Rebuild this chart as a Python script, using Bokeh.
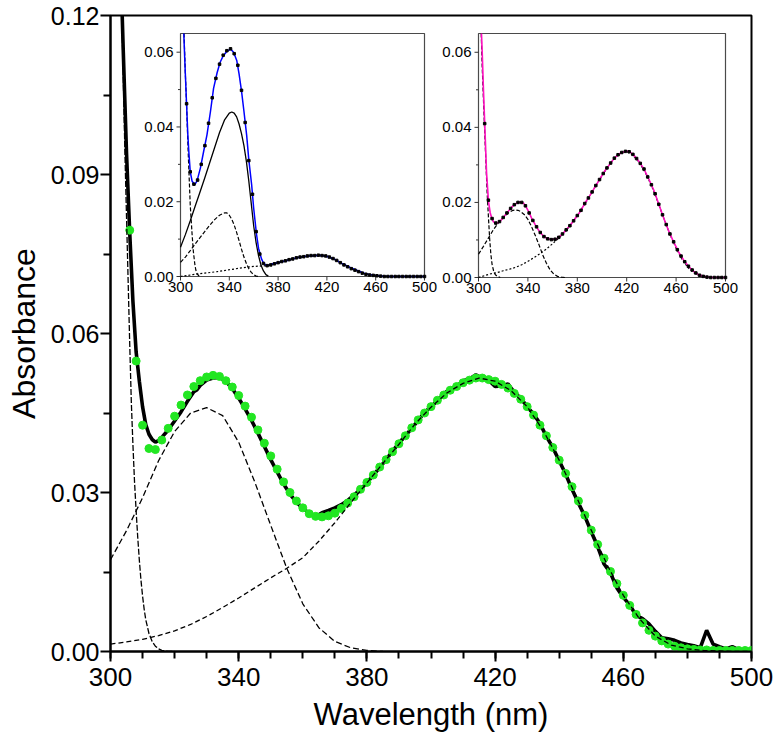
import numpy as np
from bokeh.plotting import figure
from bokeh.models import Range1d, FixedTicker, NumeralTickFormatter
from bokeh.core.properties import value
from bokeh.embed import file_html
from bokeh.resources import INLINE

FONT = "Liberation Sans"

# ---------------- main panel data ----------------
main_xticks = [300, 340, 380, 420, 460, 500]
main_xminor = [300, 310, 320, 330, 340, 350, 360, 370, 380, 390, 400, 410, 420, 430, 440,
               450, 460, 470, 480, 490, 500]
main_yticks = [0.0, 0.03, 0.06, 0.09, 0.12]
main_yminor = [0.015, 0.045, 0.075, 0.105]

# fitted spectrum (green dots)
fit_wl = list(range(306, 501, 2))
fit_abs = [0.0795, 0.0548, 0.0427, 0.0383, 0.0381, 0.0399, 0.0421, 0.0444, 0.0465, 0.0484,
           0.0500, 0.0511, 0.0518, 0.0521, 0.0519, 0.0511, 0.0499, 0.0483, 0.0463, 0.0442,
           0.0418, 0.0393, 0.0369, 0.0344, 0.0320, 0.0300, 0.0284, 0.0271, 0.0260, 0.0255,
           0.0254, 0.0256, 0.0261, 0.0270, 0.0280, 0.0292, 0.0306, 0.0319, 0.0333, 0.0348,
           0.0362, 0.0377, 0.0392, 0.0407, 0.0422, 0.0437, 0.0450, 0.0462, 0.0474, 0.0484,
           0.0493, 0.0500, 0.0507, 0.0512, 0.0516, 0.0516, 0.0513, 0.0510, 0.0504, 0.0497,
           0.0487, 0.0476, 0.0462, 0.0446, 0.0427, 0.0407, 0.0385, 0.0361, 0.0336, 0.0311,
           0.0284, 0.0257, 0.0229, 0.0202, 0.0176, 0.0151, 0.0128, 0.0106, 0.0087, 0.0070,
           0.0054, 0.0040, 0.0029, 0.0020, 0.0014, 0.0010, 0.0007, 0.0005, 0.0004, 0.0003,
           0.0003, 0.0002, 0.0002, 0.0002, 0.0002, 0.0002, 0.0002, 0.0002]

# measured spectrum (thick black line)
exp_wl = [303.4, 304, 305, 306, 307, 308, 309, 310, 311, 312, 313, 314, 315, 316, 318, 320,
          322, 324, 326, 327, 328, 330, 332, 334, 336, 338, 340, 342, 344, 346, 348, 350,
          352, 354, 356, 358, 360, 362, 364, 365, 366, 368, 370, 372, 374, 376, 378, 380,
          382, 384, 386, 388, 390, 392, 394, 396, 398, 400, 402, 404, 406, 408, 410, 412,
          414, 416, 418, 420, 422, 424, 426, 428, 430, 432, 434, 436, 438, 440, 442, 444,
          446, 448, 450, 452, 454, 456, 458, 460, 462, 464, 466, 468, 470, 472, 474, 476,
          478, 480, 482, 484, 486, 488, 490, 492, 494, 496, 498, 500]
exp_abs = [0.125, 0.113, 0.094, 0.079, 0.066, 0.0565, 0.0510, 0.0462, 0.0428, 0.0410, 0.0400, 0.0395, 0.0398, 0.0404, 0.0418, 0.0435,
           0.0452, 0.0472, 0.0490, 0.0494, 0.0502, 0.0512, 0.0516, 0.0517, 0.0510, 0.0496, 0.0478, 0.0458, 0.0436, 0.0412, 0.0387, 0.0362,
           0.0339, 0.0316, 0.0297, 0.0282, 0.0270, 0.0261, 0.0256, 0.0258, 0.0262, 0.0266, 0.0271, 0.0277, 0.0285, 0.0295, 0.0306, 0.0318,
           0.0333, 0.0347, 0.0362, 0.0378, 0.0393, 0.0407, 0.0421, 0.0436, 0.0451, 0.0462, 0.0473, 0.0486, 0.0496, 0.0500, 0.0511, 0.0514,
           0.0522, 0.0516, 0.0512, 0.0500, 0.0501, 0.0505, 0.0489, 0.0478, 0.0462, 0.0448, 0.0430, 0.0406, 0.0385, 0.0360, 0.0335, 0.0306,
           0.0280, 0.0255, 0.0226, 0.0198, 0.0165, 0.0148, 0.0120, 0.0102, 0.0088, 0.0068, 0.0062, 0.0052, 0.0038, 0.0026, 0.0024, 0.0021,
           0.0016, 0.0013, 0.0011, 0.0007, 0.0040, 0.0014, 0.0009, 0.0005, 0.0009, 0.0003, 0.0003, 0.0003]

# component bands (dashed)
uv_wl = [303.2, 304, 304.5, 305, 305.5, 306, 306.5, 307, 307.5, 308, 308.5, 309, 309.5, 310,
         310.5, 311, 312, 313, 314, 315, 316, 318, 320]
uv_abs = [0.128, 0.108, 0.094, 0.082, 0.070, 0.058, 0.047, 0.039, 0.032, 0.0265, 0.0215, 0.0172,
          0.0135, 0.0105, 0.0080, 0.0060, 0.0034, 0.0019, 0.0010, 0.0005, 0.0002, 0.0, 0.0]

b330_wl = [300, 305, 310, 315, 320, 325, 330, 335, 340, 345, 350, 355, 360, 365, 370, 375, 380, 385]
b330_abs = [0.0173, 0.0228, 0.0290, 0.0360, 0.0415, 0.0450, 0.0460, 0.0445, 0.0395, 0.0320,
            0.0238, 0.0157, 0.0090, 0.0045, 0.0019, 0.0007, 0.0002, 0.0]

b415_wl = [300, 305, 310, 315, 320, 325, 330, 335, 340, 345, 350, 355, 360, 365, 370, 375, 380,
           385, 390, 395, 400, 405, 410, 415, 420, 425, 430, 435, 440, 445, 450, 455, 460, 465,
           470, 475, 480, 485, 490, 495, 500]
b415_abs = [0.0014, 0.0018, 0.0023, 0.0030, 0.0039, 0.0051, 0.0066, 0.0083, 0.0101, 0.0120,
            0.0139, 0.0157, 0.0177, 0.0208, 0.0243, 0.0281, 0.0318, 0.0355, 0.0391, 0.0429,
            0.0461, 0.0488, 0.0506, 0.0516, 0.0510, 0.0492, 0.0462, 0.0417, 0.0361, 0.0297,
            0.0229, 0.0163, 0.0106, 0.0062, 0.0029, 0.0012, 0.0005, 0.0002, 0.0001, 0.0, 0.0]

# ---------------- inset data ----------------
inset_xlim = (300, 500)
inset_ylim = (0.0, 0.065)
inset_xticks = [300, 340, 380, 420, 460, 500]
inset_xlabels = ["300", "340", "380", "420", "460", "500"]
inset_yticks = [0.0, 0.02, 0.04, 0.06]
inset_ylabels = ["0.00", "0.02", "0.04", "0.06"]
inset_yminor = [0.01, 0.03, 0.05]

# left inset
L_uv_wl = [302.9, 303.5, 304, 304.9, 306, 306.8, 308, 309.5, 310.5, 311.7, 312.5, 313.6, 315, 317]
L_uv_abs = [0.065, 0.059, 0.054, 0.0467, 0.036, 0.029, 0.019, 0.0113, 0.0068, 0.0034, 0.0018, 0.0007, 0.0002, 0.0]
L_tot_wl = [302.7, 303.5, 304.9, 306, 306.8, 308, 309.5, 311.7, 313.5, 316.3, 319, 321.7, 324.5,
            327.1, 330, 332.5, 335, 337.9, 341.2, 343.5, 346.1, 348, 350.1, 352, 354.2, 356,
            358.3, 360, 362.3, 364, 366.4, 368, 370.5, 375.9, 381, 386.7, 391, 396.3, 403,
            411.1, 416, 421.9, 427, 432.8, 439, 446.3, 452, 459.9, 466, 471, 500]
L_tot_abs = [0.065, 0.058, 0.0467, 0.038, 0.0335, 0.028, 0.0255, 0.0246, 0.0255, 0.029, 0.0335,
             0.0379, 0.044, 0.0503, 0.0545, 0.0573, 0.059, 0.0602, 0.0608, 0.0600, 0.0578, 0.0542,
             0.0494, 0.0442, 0.0379, 0.0312, 0.0246, 0.0182, 0.0113, 0.0075, 0.0047, 0.0036,
             0.0029, 0.0034, 0.0038, 0.0042, 0.0046, 0.0051, 0.0054, 0.0056, 0.0056, 0.0052,
             0.0045, 0.0034, 0.0024, 0.0014, 0.0007, 0.0003, 0.0001, 0.0, 0.0]
L_main_wl = [300, 304, 308, 312, 316, 320, 324, 328, 332, 336, 340, 342, 344, 346, 348, 350,
             352, 354, 356, 358, 360, 362, 364, 366, 368, 370, 372]
L_main_abs = [0.0078, 0.0112, 0.0149, 0.0188, 0.0226, 0.0265, 0.0305, 0.0345, 0.0385, 0.0418,
              0.0437, 0.0440, 0.0437, 0.0427, 0.0408, 0.0382, 0.0350, 0.0308, 0.0255, 0.0195,
              0.0135, 0.0090, 0.0055, 0.0030, 0.0015, 0.0005, 0.0001]
L_band_wl = [300, 304, 308, 312, 316, 320, 324, 328, 332, 336, 338, 340, 342, 344, 346, 348,
             350, 352, 354, 356, 358, 360, 362, 364]
L_band_abs = [0.0038, 0.0052, 0.0069, 0.0087, 0.0104, 0.0121, 0.0137, 0.0152, 0.0164, 0.0170,
              0.0170, 0.0164, 0.0153, 0.0138, 0.0118, 0.0096, 0.0073, 0.0052, 0.0035, 0.0021,
              0.0011, 0.0005, 0.0001, 0.0]
L_broad_wl = [300, 310, 320, 330, 340, 350, 360, 370, 375, 380, 390, 400, 410, 415, 420, 430,
              440, 450, 460, 470, 500]
L_broad_abs = [0.0, 0.0005, 0.0009, 0.0013, 0.0018, 0.0023, 0.0027, 0.0029, 0.0032, 0.0037,
               0.0046, 0.0052, 0.0056, 0.0057, 0.0055, 0.0039, 0.0021, 0.0008, 0.0002, 0.0, 0.0]
L_dot_wl = list(range(305, 501, 3))
L_dot_abs = [0.0462, 0.0280, 0.0247, 0.0258, 0.0300, 0.0350, 0.0410, 0.0478, 0.0530, 0.0568,
             0.0592, 0.0604, 0.0609, 0.0596, 0.0565, 0.0498, 0.0412, 0.0310, 0.0220, 0.0120,
             0.0060, 0.0035, 0.0029, 0.0031, 0.0034, 0.0037, 0.0040, 0.0042, 0.0045, 0.0047,
             0.0050, 0.0052, 0.0053, 0.0055, 0.0056, 0.0056, 0.0057, 0.0056, 0.0055, 0.0052,
             0.0048, 0.0043, 0.0037, 0.0031, 0.0026, 0.0021, 0.0017, 0.0013, 0.0009, 0.0006,
             0.0004, 0.0003, 0.0002, 0.0001, 0.0, 0.0, 0.0, 0.0, 0.0, 0.0,
             0.0, 0.0, 0.0, 0.0, 0.0, 0.0]

# right inset
R_uv_wl = [302.2, 303, 304.1, 305, 306.2, 307, 308.1, 309, 310, 311, 312.2, 313.5, 314.9, 317.6]
R_uv_abs = [0.065, 0.056, 0.0466, 0.039, 0.029, 0.0225, 0.0158, 0.0105, 0.0062, 0.0035, 0.0018, 0.0008, 0.0004, 0.0]
R_tot_wl = [302.4, 303, 304, 305.4, 306.5, 308.1, 309.5, 310.8, 312, 313.5, 315.5, 317.6, 320,
            323, 326, 328.4, 331, 333.8, 336.5, 338.5, 340.5, 343, 345.9, 349, 352.7, 356,
            359.5, 363.5, 366, 368.9, 371.5, 374.3, 378, 382.4, 386, 390.5, 394.5, 398.6,
            402.5, 406.8, 410.5, 414.9, 419.7, 422.5, 425.7, 429.5, 433.8, 437.5, 441.9, 446,
            450, 454, 458.1, 462, 466.2, 470, 474.3, 478, 482.4, 486, 490.5, 500]
R_tot_abs = [0.065, 0.060, 0.050, 0.0378, 0.028, 0.0202, 0.0172, 0.0158, 0.0149, 0.0145, 0.0146,
             0.0150, 0.0160, 0.0172, 0.0184, 0.0192, 0.0198, 0.0201, 0.0198, 0.0188, 0.0176,
             0.0158, 0.0141, 0.0124, 0.0110, 0.0103, 0.0101, 0.0104, 0.0110, 0.0119, 0.0129,
             0.0139, 0.0156, 0.0176, 0.0197, 0.0220, 0.0242, 0.0264, 0.0285, 0.0304, 0.0320,
             0.0331, 0.0337, 0.0335, 0.0326, 0.0311, 0.0290, 0.0265, 0.0233, 0.0195, 0.0158,
             0.0124, 0.0094, 0.0068, 0.0046, 0.0030, 0.0016, 0.0008, 0.0003, 0.0001, 0.0, 0.0]
R_band_wl = [300, 304, 308, 312, 316, 320, 324, 328, 330, 332, 334, 337, 340, 343, 346, 349,
             352, 355, 358, 361, 364, 367, 370]
R_band_abs = [0.0062, 0.0083, 0.0105, 0.0127, 0.0145, 0.0160, 0.0172, 0.0179, 0.0180, 0.0179,
              0.0176, 0.0168, 0.0155, 0.0135, 0.0112, 0.0087, 0.0060, 0.0038, 0.0020, 0.0009,
              0.0003, 0.0001, 0.0]
R_broad_wl = [300, 305, 310, 315, 320, 325, 330, 335, 340, 345, 350, 355, 360, 365, 370, 375,
              380, 385, 390, 395, 400, 405, 410, 415, 420, 425, 430, 435, 440, 445, 450, 455,
              460, 465, 470, 475, 480, 485, 490, 500]
R_broad_abs = [0.0, 0.0005, 0.0010, 0.0013, 0.0018, 0.0022, 0.0027, 0.0034, 0.0043, 0.0053,
               0.0064, 0.0076, 0.0090, 0.0105, 0.0120, 0.0143, 0.0165, 0.0190, 0.0217, 0.0245,
               0.0271, 0.0296, 0.0318, 0.0331, 0.0336, 0.0326, 0.0307, 0.0280, 0.0245, 0.0203,
               0.0158, 0.0115, 0.0078, 0.0047, 0.0025, 0.0011, 0.0004, 0.0001, 0.0, 0.0]
R_dot_wl = list(range(305, 501, 3))
R_dot_abs = [0.0410, 0.0206, 0.0157, 0.0145, 0.0149, 0.0160, 0.0172, 0.0184, 0.0194, 0.0200,
             0.0200, 0.0191, 0.0172, 0.0152, 0.0135, 0.0120, 0.0109, 0.0103, 0.0101, 0.0102,
             0.0107, 0.0116, 0.0127, 0.0138, 0.0151, 0.0165, 0.0179, 0.0197, 0.0212, 0.0228,
             0.0245, 0.0261, 0.0277, 0.0292, 0.0305, 0.0318, 0.0327, 0.0333, 0.0336, 0.0335,
             0.0328, 0.0317, 0.0304, 0.0289, 0.0268, 0.0247, 0.0223, 0.0195, 0.0167, 0.0141,
             0.0116, 0.0095, 0.0074, 0.0057, 0.0042, 0.0030, 0.0020, 0.0012, 0.0006, 0.0003,
             0.0001, 0.0, 0.0, 0.0, 0.0, 0.0]

# ---------------- layout (pixels) ----------------
W, H = 773, 737
FL, FR, FT, FB = 110, 751, 15, 651          # main frame edges
LEFT_INSET = dict(left=180, right=424, top=33, bottom=276)
RIGHT_INSET = dict(left=478, right=725, top=33, bottom=277)

p = figure(width=W, height=H, x_range=Range1d(300, 500), y_range=Range1d(0, 0.12),
           output_backend="svg", toolbar_location=None,
           min_border_left=FL, min_border_right=W - FR, min_border_top=FT,
           min_border_bottom=H - FB)
p.xgrid.visible = False
p.ygrid.visible = False
p.outline_line_color = "black"
p.outline_line_width = 2
p.background_fill_color = "white"
p.border_fill_color = "white"

p.xaxis.ticker = FixedTicker(ticks=main_xticks, minor_ticks=main_xminor)
p.yaxis.ticker = FixedTicker(ticks=main_yticks, minor_ticks=main_yminor)
p.yaxis.formatter = NumeralTickFormatter(format="0.00")
p.xaxis.axis_label = "Wavelength (nm)"
p.yaxis.axis_label = "Absorbance"
for ax in (p.xaxis[0], p.yaxis[0]):
    ax.axis_line_width = 2
    ax.major_tick_line_width = 2
    ax.minor_tick_line_width = 2
    ax.major_tick_out = 10
    ax.major_tick_in = 0
    ax.minor_tick_out = 7
    ax.minor_tick_in = 0
    ax.major_label_text_font = FONT
    ax.major_label_text_color = "black"
    ax.axis_label_text_font = FONT
    ax.axis_label_text_font_style = "normal"
    ax.axis_label_text_color = "black"
p.xaxis.major_label_text_font_size = "26px"
p.yaxis.major_label_text_font_size = "25px"
p.xaxis.axis_label_text_font_size = "31px"
p.yaxis.axis_label_text_font_size = "32px"
p.xaxis.major_label_standoff = 6
p.yaxis.major_label_standoff = 1
p.xaxis.axis_label_standoff = 8
p.yaxis.axis_label_standoff = 6


def add_inset(name, box):
    sx = (inset_xlim[1] - inset_xlim[0]) / (box["right"] - box["left"])
    sy = (inset_ylim[1] - inset_ylim[0]) / (box["bottom"] - box["top"])
    p.extra_x_ranges[name] = Range1d(inset_xlim[0] - (box["left"] - FL) * sx,
                                     inset_xlim[1] + (FR - box["right"]) * sx)
    p.extra_y_ranges[name] = Range1d(inset_ylim[0] - (FB - box["bottom"]) * sy,
                                     inset_ylim[1] + (box["top"] - FT) * sy)
    kw = dict(x_range_name=name, y_range_name=name)
    p.quad(left=[inset_xlim[0]], right=[inset_xlim[1]], bottom=[inset_ylim[0]],
           top=[inset_ylim[1]], fill_color="white", line_color="#4a4a4a", line_width=1.2, **kw)
    p.ray(x=inset_xticks, y=[inset_ylim[0]] * len(inset_xticks), length=4, angle=-np.pi / 2,
          length_units="screen", line_color="#333333", line_width=1, **kw)
    p.ray(x=[inset_xlim[0]] * len(inset_yticks), y=inset_yticks, length=4, angle=np.pi,
          length_units="screen", line_color="#333333", line_width=1, **kw)
    p.ray(x=[inset_xlim[0]] * len(inset_yminor), y=inset_yminor, length=2.5, angle=np.pi,
          length_units="screen", line_color="#333333", line_width=1, **kw)
    p.text(x=inset_xticks, y=[inset_ylim[0]] * len(inset_xticks), text=inset_xlabels,
           text_align="center", text_baseline="top", y_offset=5,
           text_font=value(FONT), text_font_size="15px", text_color="black", **kw)
    p.text(x=[inset_xlim[0]] * len(inset_yticks), y=inset_yticks, text=inset_ylabels,
           text_align="right", text_baseline="middle", x_offset=-7,
           text_font=value(FONT), text_font_size="15px", text_color="black", **kw)
    return kw


# ---- main curves
p.line(exp_wl, exp_abs, line_color="black", line_width=3.6)
p.scatter(fit_wl, fit_abs, size=8, fill_color="#22e622", line_color="#22e622")
p.line(uv_wl, uv_abs, line_color="black", line_width=1.3, line_dash="6 2")
p.line(b330_wl, b330_abs, line_color="black", line_width=1.3, line_dash="6 3")
p.line(b415_wl, b415_abs, line_color="black", line_width=1.3, line_dash="5 3")

# ---- left inset
kl = add_inset("L", LEFT_INSET)
p.line(L_broad_wl, L_broad_abs, line_color="black", line_width=1.2, line_dash="2 2", **kl)
p.line(L_band_wl, L_band_abs, line_color="black", line_width=1.2, line_dash="4 2", **kl)
p.line(L_uv_wl, L_uv_abs, line_color="black", line_width=1.2, line_dash="4 2", **kl)
p.line(L_main_wl, L_main_abs, line_color="black", line_width=1.3, **kl)
p.line(L_tot_wl, L_tot_abs, line_color="#0000ff", line_width=1.5, **kl)
p.scatter(L_dot_wl, L_dot_abs, marker="square", size=2.5, fill_color="black",
          line_color="black", **kl)

# ---- right inset
kr = add_inset("R", RIGHT_INSET)
p.line(R_broad_wl, R_broad_abs, line_color="black", line_width=1.2, line_dash="2 2", **kr)
p.line(R_band_wl, R_band_abs, line_color="black", line_width=1.2, line_dash="4 2", **kr)
p.line(R_uv_wl, R_uv_abs, line_color="black", line_width=1.2, line_dash="4 2", **kr)
p.line(R_tot_wl, R_tot_abs, line_color="#ff10c0", line_width=1.6, **kr)
p.scatter(R_dot_wl, R_dot_abs, marker="square", size=2.5, fill_color="black",
          line_color="black", **kr)

open("out.html", "w").write(file_html(p, INLINE))
